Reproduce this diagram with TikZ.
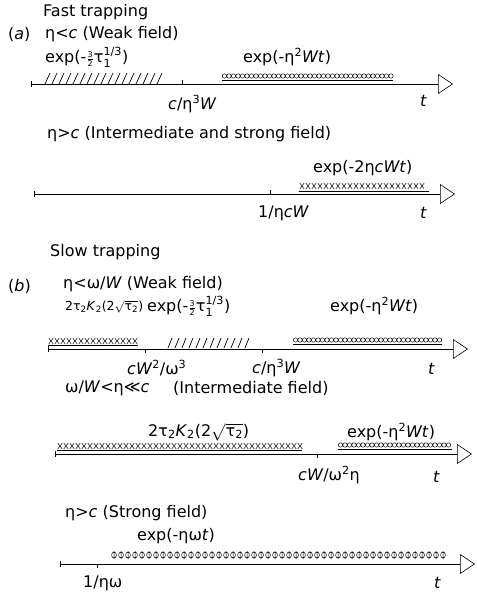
\documentclass[tikz,border=0pt]{standalone}
\usepackage{amsmath}
\usepackage{fontspec}
\setmainfont{DejaVu Sans}
\usetikzlibrary{arrows.meta, positioning}

\newcommand{\vi}[1]{\textit{#1}}
\newcommand{\taui}{$\genfrac{}{}{}{2}{\text{3}}{\text{2}}$τ$_{\text{1}}^{\text{1/3}}$}
\newcommand{\besk}{2τ\textsubscript{2}\vi{K}\textsubscript{2}(2$\sqrt{\text{τ}_{\text{2}}}$)}

\tikzset{
  axisline/.style={{Bar[width=6pt]}-{Triangle[open,length=15pt,width=20pt]}, line width=0.6pt},
  tickmark/.style={line width=0.6pt},
  lbl/.style={inner sep=0pt, anchor=west, font=\fontsize{16}{18}\selectfont},
  small/.style={font=\fontsize{12.5}{15}\selectfont},
  hatch/.style={line width=0.7pt},
  band/.style={line width=0.5pt},
}

\begin{document}
\begin{tikzpicture}[x=1pt, y=-1pt]
\useasboundingbox (0,0) rectangle (476,596);
% (a) Fast trapping
\node[lbl] (fast) at (43,12) {Fast trapping};
\node[lbl] (a) at (8,34) {(\vi{a})};
\node[lbl] (weakA) at (45,34) {η<\vi{c} (Weak field)};
\node[lbl] (expA1) at (45,57) {exp(-\taui)};
\node[lbl] (expA2) at (243,57) {exp(-η\textsuperscript{2}\vi{Wt})};
% Axis A1
\coordinate (A1s) at (31,84);
\coordinate (A1e) at (453,84);
\coordinate (A1t) at (182,84);
\draw[axisline] (A1s) -- (A1e);
\draw[tickmark] (A1t) -- ++(0,-4);
\node[lbl] (A1tl) at (168,104) {\vi{c}/η\textsuperscript{3}\vi{W}};
\node[lbl] (A1tt) at (420,101) {\vi{t}};
\foreach \x in {45,52,...,158} \draw[hatch] (\x,84) -- ++(5,-11);
\foreach \x in {224.5,229,...,391} \draw[band] (\x,76) circle (2.2pt);
\draw[band] (222,80) -- (393,80);
% Axis A2
\node[lbl] (strongA) at (47,134) {η>\vi{c} (Intermediate and strong field)};
\node[lbl] (expA3) at (313,168) {exp(-2η\vi{cWt})};
\coordinate (A2s) at (34,194);
\coordinate (A2e) at (455,194);
\coordinate (A2t) at (270,194);
\draw[axisline] (A2s) -- (A2e);
\draw[tickmark] (A2t) -- ++(0,-4);
\node[lbl] (A2tl) at (258,213) {1/η\vi{cW}};
\node[lbl] (A2tt) at (420,213) {\vi{t}};
\foreach \x in {302,308,...,426} \draw[band] (\x-2.2,183) -- (\x+2.2,189) (\x-2.2,189) -- (\x+2.2,183);
\draw[band] (299,191) -- (429,191);
% (b) Slow trapping
\node[lbl] (slow) at (50,252) {Slow trapping};
\node[lbl] (b) at (8,286) {(\vi{b})};
\node[lbl] (weakB) at (63,284) {η<ω/\vi{W} (Weak field)};
\node[lbl, small] (besB1) at (65,307) {\besk};
\node[lbl] (expB1) at (147,306) {exp(-\taui)};
\node[lbl] (expB2) at (330,306) {exp(-η\textsuperscript{2}\vi{Wt})};
% Axis B1
\coordinate (B1s) at (48,349);
\coordinate (B1e) at (468,349);
\coordinate (B1t1) at (145,349);
\coordinate (B1t2) at (262,349);
\draw[axisline] (B1s) -- (B1e);
\draw[tickmark] (B1t1) -- ++(0,4) (B1t2) -- ++(0,4);
\node[lbl] (B1tl1) at (127,368) {\vi{cW}\textsuperscript{2}/ω\textsuperscript{3}};
\node[lbl] (B1tl2) at (252,368) {\vi{c}/η\textsuperscript{3}\vi{W}};
\node[lbl] (B1tt) at (428,369) {\vi{t}};
\foreach \x in {51,57,...,136} \draw[band] (\x-2.3,338) -- (\x+2.3,344) (\x-2.3,344) -- (\x+2.3,338);
\draw[band] (48,345.5) -- (138,345.5);
\foreach \x in {168,175,...,246} \draw[hatch] (\x,348) -- ++(4,-10);
\foreach \x in {295.5,300,...,440} \draw[band] (\x,340) circle (2.2pt);
\draw[band] (293,344) -- (442,344);
% Axis B2
\node[lbl] (interB) at (65,388) {ω/\vi{W}<η≪\vi{c}};
\node[lbl] (interB2) at (173,388) {(Intermediate field)};
\node[lbl] (besB2) at (148,432) {\besk};
\node[lbl] (expB3) at (347,432) {exp(-η\textsuperscript{2}\vi{Wt})};
\coordinate (B2s) at (55,454);
\coordinate (B2e) at (472,454);
\coordinate (B2t) at (317,454);
\draw[axisline] (B2s) -- (B2e);
\draw[tickmark] (B2t) -- ++(0,4);
\node[lbl] (B2tl) at (298,475) {\vi{cW}/ω\textsuperscript{2}η};
\node[lbl] (B2tt) at (433,477) {\vi{t}};
\foreach \x in {60,66,...,300} \draw[band] (\x-2.3,443) -- (\x+2.3,449) (\x-2.3,449) -- (\x+2.3,443);
\draw[band] (57,450.5) -- (302,450.5);
\foreach \x in {340.5,345,...,450} \draw[band] (\x,445) circle (2.2pt);
\draw[band] (338,449) -- (452,449);
% Axis B3
\node[lbl] (strongB) at (65,513) {η>\vi{c} (Strong field)};
\node[lbl] (expB4) at (137,536) {exp(-ηω\vi{t})};
\coordinate (B3s) at (60,564);
\coordinate (B3e) at (475,564);
\coordinate (B3t) at (97,564);
\draw[axisline] (B3s) -- (B3e);
\draw[tickmark] (B3t) -- ++(0,4);
\node[lbl] (B3tl) at (83,583) {1/ηω};
\node[lbl] (B3tt) at (434,583) {\vi{t}};
\foreach \x in {114,121,...,446} \draw[band] (\x,555) ellipse (2.4pt and 3pt) (\x,551) -- (\x,559);
\end{tikzpicture}
\end{document}
